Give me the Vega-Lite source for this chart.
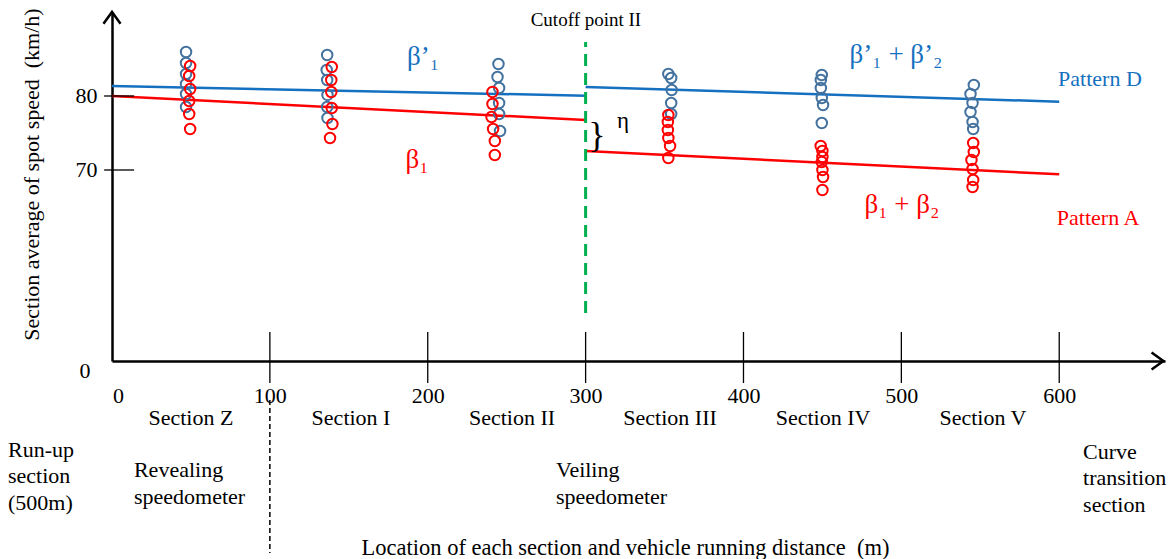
{
  "$schema": "https://vega.github.io/schema/vega-lite/v6.json",
  "width": 1053,
  "height": 349,
  "autosize": {"type": "none"},
  "padding": {"left": 112, "top": 12, "right": 8, "bottom": 198},
  "config": {"font": "Liberation Serif", "view": {"stroke": null}},
  "data": {"values": [{"k": 1}]},
  "layer": [
    {
      "data": {"values": [
        {"pattern": "Pattern D", "seg": "a", "x": 0, "y": 81.35},
        {"pattern": "Pattern D", "seg": "a", "x": 300, "y": 80.04},
        {"pattern": "Pattern D", "seg": "b", "x": 300, "y": 81.2},
        {"pattern": "Pattern D", "seg": "b", "x": 600, "y": 79.23},
        {"pattern": "Pattern A", "seg": "a", "x": 0, "y": 80},
        {"pattern": "Pattern A", "seg": "a", "x": 300, "y": 76.76},
        {"pattern": "Pattern A", "seg": "b", "x": 300, "y": 72.57},
        {"pattern": "Pattern A", "seg": "b", "x": 600, "y": 69.42}
      ]},
      "mark": {"type": "line", "strokeWidth": 2.5},
      "encoding": {
        "x": {"field": "x", "type": "quantitative",
          "scale": {"domain": [0, 667], "nice": false, "zero": false},
          "axis": {"values": [0, 100, 200, 300, 400, 500, 600], "grid": false, "ticks": false,
            "domainColor": "black", "domainWidth": 2.5, "labelColor": "black", "labelFontSize": 22,
            "labelPadding": 24, "labelFlush": false, "labelOverlap": false,
            "labelOffset": {"condition": {"test": "datum.value === 0", "value": 6}, "value": 0},
            "title": "Location of each section and vehicle running distance\u00a0 (m)",
            "titleFontSize": 22.5, "titleFontWeight": "normal", "titleColor": "black",
            "titleX": 513, "titleY": 186, "titleBaseline": "middle", "titleAlign": "center"}},
        "y": {"field": "y", "type": "quantitative",
          "scale": {"domain": [0, 60, 91.35], "range": [349, 232, 0], "nice": false, "zero": false},
          "axis": {"values": [0, 70, 80], "grid": false, "ticks": false,
            "domainColor": "black", "domainWidth": 2.5, "labelColor": "black", "labelFontSize": 22,
            "labelFlush": false, "labelOverlap": false,
            "labelPadding": {"condition": {"test": "datum.value === 0", "value": 22}, "value": 15},
            "labelOffset": {"condition": {"test": "datum.value === 0", "value": 9}, "value": 0},
            "title": "Section average of spot speed\u00a0 (km/h)",
            "titleFontSize": 22, "titleFontWeight": "normal", "titleColor": "black",
            "titleX": -81, "titleY": 162, "titleBaseline": "middle", "titleAlign": "center", "titleAngle": -90}},
        "color": {"field": "pattern", "type": "nominal",
          "scale": {"domain": ["Pattern D", "Pattern A"], "range": ["#1570C0", "#FF0000"]}, "legend": null},
        "detail": {"field": "seg"}
      }
    },
    {
      "data": {"values": [
        {"pattern": "Pattern D", "section": "Z", "x": 46.9, "y": 85.95},
        {"pattern": "Pattern D", "section": "Z", "x": 46.9, "y": 84.46},
        {"pattern": "Pattern D", "section": "Z", "x": 46.9, "y": 82.97},
        {"pattern": "Pattern D", "section": "Z", "x": 46.9, "y": 81.62},
        {"pattern": "Pattern D", "section": "Z", "x": 46.9, "y": 80.27},
        {"pattern": "Pattern D", "section": "Z", "x": 46.9, "y": 78.51},
        {"pattern": "Pattern D", "section": "I", "x": 136.3, "y": 85.54},
        {"pattern": "Pattern D", "section": "I", "x": 136.0, "y": 83.51},
        {"pattern": "Pattern D", "section": "I", "x": 136.3, "y": 82.16},
        {"pattern": "Pattern D", "section": "I", "x": 136.5, "y": 80.14},
        {"pattern": "Pattern D", "section": "I", "x": 136.3, "y": 78.51},
        {"pattern": "Pattern D", "section": "I", "x": 136.5, "y": 77.03},
        {"pattern": "Pattern D", "section": "II", "x": 244.8, "y": 84.32},
        {"pattern": "Pattern D", "section": "II", "x": 244.2, "y": 82.57},
        {"pattern": "Pattern D", "section": "II", "x": 245.2, "y": 81.08},
        {"pattern": "Pattern D", "section": "II", "x": 245.2, "y": 79.05},
        {"pattern": "Pattern D", "section": "II", "x": 245.2, "y": 77.57},
        {"pattern": "Pattern D", "section": "II", "x": 245.8, "y": 75.27},
        {"pattern": "Pattern D", "section": "III", "x": 352.4, "y": 82.97},
        {"pattern": "Pattern D", "section": "III", "x": 354.2, "y": 82.43},
        {"pattern": "Pattern D", "section": "III", "x": 354.5, "y": 80.81},
        {"pattern": "Pattern D", "section": "III", "x": 354.2, "y": 79.05},
        {"pattern": "Pattern D", "section": "III", "x": 354.2, "y": 77.57},
        {"pattern": "Pattern D", "section": "IV", "x": 449.6, "y": 82.84},
        {"pattern": "Pattern D", "section": "IV", "x": 449.0, "y": 82.16},
        {"pattern": "Pattern D", "section": "IV", "x": 449.0, "y": 81.08},
        {"pattern": "Pattern D", "section": "IV", "x": 449.6, "y": 79.73},
        {"pattern": "Pattern D", "section": "IV", "x": 450.4, "y": 78.78},
        {"pattern": "Pattern D", "section": "IV", "x": 449.6, "y": 76.35},
        {"pattern": "Pattern D", "section": "V", "x": 545.9, "y": 81.49},
        {"pattern": "Pattern D", "section": "V", "x": 543.8, "y": 80.27},
        {"pattern": "Pattern D", "section": "V", "x": 545.1, "y": 79.05},
        {"pattern": "Pattern D", "section": "V", "x": 543.8, "y": 77.84},
        {"pattern": "Pattern D", "section": "V", "x": 545.1, "y": 76.49},
        {"pattern": "Pattern D", "section": "V", "x": 545.5, "y": 75.54},
        {"pattern": "Pattern A", "section": "Z", "x": 49.5, "y": 84.05},
        {"pattern": "Pattern A", "section": "Z", "x": 48.9, "y": 82.7},
        {"pattern": "Pattern A", "section": "Z", "x": 49.5, "y": 80.95},
        {"pattern": "Pattern A", "section": "Z", "x": 48.9, "y": 79.32},
        {"pattern": "Pattern A", "section": "Z", "x": 48.9, "y": 77.57},
        {"pattern": "Pattern A", "section": "Z", "x": 49.5, "y": 75.54},
        {"pattern": "Pattern A", "section": "I", "x": 139.2, "y": 83.92},
        {"pattern": "Pattern A", "section": "I", "x": 138.9, "y": 82.16},
        {"pattern": "Pattern A", "section": "I", "x": 138.9, "y": 80.54},
        {"pattern": "Pattern A", "section": "I", "x": 139.2, "y": 78.38},
        {"pattern": "Pattern A", "section": "I", "x": 139.6, "y": 76.22},
        {"pattern": "Pattern A", "section": "I", "x": 138.1, "y": 74.32},
        {"pattern": "Pattern A", "section": "II", "x": 241.0, "y": 80.54},
        {"pattern": "Pattern A", "section": "II", "x": 241.0, "y": 78.92},
        {"pattern": "Pattern A", "section": "II", "x": 240.4, "y": 77.16},
        {"pattern": "Pattern A", "section": "II", "x": 241.4, "y": 75.54},
        {"pattern": "Pattern A", "section": "II", "x": 242.5, "y": 73.92},
        {"pattern": "Pattern A", "section": "II", "x": 242.5, "y": 72.03},
        {"pattern": "Pattern A", "section": "III", "x": 352.4, "y": 77.43},
        {"pattern": "Pattern A", "section": "III", "x": 352.1, "y": 76.49},
        {"pattern": "Pattern A", "section": "III", "x": 352.1, "y": 75.41},
        {"pattern": "Pattern A", "section": "III", "x": 352.4, "y": 74.32},
        {"pattern": "Pattern A", "section": "III", "x": 353.5, "y": 73.24},
        {"pattern": "Pattern A", "section": "III", "x": 352.4, "y": 71.62},
        {"pattern": "Pattern A", "section": "IV", "x": 448.9, "y": 73.24},
        {"pattern": "Pattern A", "section": "IV", "x": 450.0, "y": 72.57},
        {"pattern": "Pattern A", "section": "IV", "x": 450.0, "y": 71.76},
        {"pattern": "Pattern A", "section": "IV", "x": 449.6, "y": 71.08},
        {"pattern": "Pattern A", "section": "IV", "x": 450.0, "y": 70.0},
        {"pattern": "Pattern A", "section": "IV", "x": 450.4, "y": 69.05},
        {"pattern": "Pattern A", "section": "IV", "x": 450.0, "y": 67.3},
        {"pattern": "Pattern A", "section": "V", "x": 545.5, "y": 73.65},
        {"pattern": "Pattern A", "section": "V", "x": 545.9, "y": 72.43},
        {"pattern": "Pattern A", "section": "V", "x": 544.4, "y": 71.35},
        {"pattern": "Pattern A", "section": "V", "x": 545.1, "y": 70.14},
        {"pattern": "Pattern A", "section": "V", "x": 545.5, "y": 68.65},
        {"pattern": "Pattern A", "section": "V", "x": 545.1, "y": 67.7}
      ]},
      "mark": {"type": "point", "filled": false, "strokeWidth": 2, "size": 110, "opacity": 1},
      "encoding": {
        "x": {"field": "x", "type": "quantitative", "scale": {"domain": [0, 667], "nice": false, "zero": false}},
        "y": {"field": "y", "type": "quantitative", "scale": {"domain": [0, 60, 91.35], "range": [349, 232, 0], "nice": false, "zero": false}},
        "stroke": {"field": "pattern", "type": "nominal",
          "scale": {"domain": ["Pattern D", "Pattern A"], "range": ["#43729F", "#FF0000"]}, "legend": null}
      }
    },
    {
      "mark": {"type": "rule", "color": "#00B050", "strokeWidth": 3, "strokeDash": [12, 7]},
      "encoding": {
        "x": {"datum": 300, "type": "quantitative", "scale": {"domain": [0, 667], "nice": false, "zero": false}},
        "y": {"datum": 24.6, "type": "quantitative", "scale": {"domain": [0, 60, 91.35], "range": [349, 232, 0], "nice": false, "zero": false}},
        "y2": {"datum": 87.3}
      }
    },
    {
      "mark": {"type": "rule", "color": "black", "strokeWidth": 1.5, "strokeDash": [5, 3]},
      "encoding": {
        "x": {"datum": 100, "type": "quantitative", "scale": {"domain": [0, 667], "nice": false, "zero": false}},
        "y": {"datum": -20, "type": "quantitative", "scale": {"domain": [0, 60, 91.35], "range": [349, 232, 0], "nice": false, "zero": false}},
        "y2": {"datum": -98.5}
      }
    },
    {
      "data": {"values": [{"x": 100}, {"x": 200}, {"x": 300}, {"x": 400}, {"x": 500}, {"x": 600}]},
      "mark": {"type": "rule", "color": "black", "strokeWidth": 1.3},
      "encoding": {
        "x": {"field": "x", "type": "quantitative", "scale": {"domain": [0, 667], "nice": false, "zero": false}},
        "y": {"datum": -11.3, "type": "quantitative", "scale": {"domain": [0, 60, 91.35], "range": [349, 232, 0], "nice": false, "zero": false}},
        "y2": {"datum": 14.9}
      }
    },
    {
      "data": {"values": [{"y": 70}, {"y": 80}]},
      "mark": {"type": "rule", "color": "black", "strokeWidth": 1.3},
      "encoding": {
        "x": {"datum": -5, "type": "quantitative", "scale": {"domain": [0, 667], "nice": false, "zero": false}},
        "x2": {"datum": 14},
        "y": {"field": "y", "type": "quantitative", "scale": {"domain": [0, 60, 91.35], "range": [349, 232, 0], "nice": false, "zero": false}}
      }
    },
    {
      "mark": {"type": "point", "shape": "M-0.72,1L0,0L0.72,1", "size": 560, "filled": false, "stroke": "black", "strokeWidth": 2.5, "opacity": 1},
      "encoding": {
        "x": {"datum": 0, "type": "quantitative", "scale": {"domain": [0, 667], "nice": false, "zero": false}},
        "y": {"datum": 91.35, "type": "quantitative", "scale": {"domain": [0, 60, 91.35], "range": [349, 232, 0], "nice": false, "zero": false}}
      }
    },
    {
      "mark": {"type": "point", "shape": "M-1,-0.72L0,0L-1,0.72", "size": 560, "filled": false, "stroke": "black", "strokeWidth": 2.5, "opacity": 1},
      "encoding": {
        "x": {"datum": 666, "type": "quantitative", "scale": {"domain": [0, 667], "nice": false, "zero": false}},
        "y": {"datum": 0, "type": "quantitative", "scale": {"domain": [0, 60, 91.35], "range": [349, 232, 0], "nice": false, "zero": false}}
      }
    },
    {
      "data": {"values": [
        {"label": "Section Z", "x": 50, "y": -29.2},
        {"label": "Section I", "x": 151.4, "y": -29.2},
        {"label": "Section II", "x": 253.4, "y": -29.2},
        {"label": "Section III", "x": 353.5, "y": -29.2},
        {"label": "Section IV", "x": 450.4, "y": -29.2},
        {"label": "Section V", "x": 551.7, "y": -29.2}
      ]},
      "mark": {"type": "text", "fontSize": 22, "color": "black", "align": "center", "baseline": "middle"},
      "encoding": {
        "x": {"field": "x", "type": "quantitative", "scale": {"domain": [0, 667], "nice": false, "zero": false}},
        "y": {"field": "y", "type": "quantitative", "scale": {"domain": [0, 60, 91.35], "range": [349, 232, 0], "nice": false, "zero": false}},
        "text": {"field": "label"}
      }
    },
    {
      "data": {"values": [
        {"label": "Run-up\nsection\n(500m)", "x": -65.9, "y": -40.3},
        {"label": "Revealing\nspeedometer", "x": 13.9, "y": -51.0},
        {"label": "Veiling\nspeedometer", "x": 281.2, "y": -51.0},
        {"label": "Curve\ntransition\nsection", "x": 615.1, "y": -41.3}
      ]},
      "mark": {"type": "text", "fontSize": 22, "color": "black", "align": "left", "baseline": "top", "lineBreak": "\n", "lineHeight": 26.5},
      "encoding": {
        "x": {"field": "x", "type": "quantitative", "scale": {"domain": [0, 667], "nice": false, "zero": false}},
        "y": {"field": "y", "type": "quantitative", "scale": {"domain": [0, 60, 91.35], "range": [349, 232, 0], "nice": false, "zero": false}},
        "text": {"field": "label"}
      }
    },
    {
      "data": {"values": [{"label": "Cutoff point II", "x": 300.2, "y": 90.27}]},
      "mark": {"type": "text", "fontSize": 19, "color": "black", "align": "center", "baseline": "middle"},
      "encoding": {
        "x": {"field": "x", "type": "quantitative", "scale": {"domain": [0, 667], "nice": false, "zero": false}},
        "y": {"field": "y", "type": "quantitative", "scale": {"domain": [0, 60, 91.35], "range": [349, 232, 0], "nice": false, "zero": false}},
        "text": {"field": "label"}
      }
    },
    {
      "data": {"values": [{"label": "η", "x": 323.7, "y": 76.6}]},
      "mark": {"type": "text", "fontSize": 23, "color": "black", "align": "center", "baseline": "middle"},
      "encoding": {
        "x": {"field": "x", "type": "quantitative", "scale": {"domain": [0, 667], "nice": false, "zero": false}},
        "y": {"field": "y", "type": "quantitative", "scale": {"domain": [0, 60, 91.35], "range": [349, 232, 0], "nice": false, "zero": false}},
        "text": {"field": "label"}
      }
    },
    {
      "data": {"values": [{"label": "}", "x": 307.2, "y": 74.6}]},
      "mark": {"type": "text", "fontSize": 36, "color": "black", "align": "center", "baseline": "middle"},
      "encoding": {
        "x": {"field": "x", "type": "quantitative", "scale": {"domain": [0, 667], "nice": false, "zero": false}},
        "y": {"field": "y", "type": "quantitative", "scale": {"domain": [0, 60, 91.35], "range": [349, 232, 0], "nice": false, "zero": false}},
        "text": {"field": "label"}
      }
    },
    {
      "data": {"values": [
        {"label": "β’₁", "pattern": "Pattern D", "x": 197, "y": 85.27},
        {"label": "β’₁ + β’₂", "pattern": "Pattern D", "x": 496.6, "y": 85.54},
        {"label": "β₁", "pattern": "Pattern A", "x": 193.2, "y": 71.35},
        {"label": "β₁ + β₂", "pattern": "Pattern A", "x": 500.4, "y": 65.27}
      ]},
      "mark": {"type": "text", "fontSize": 27, "align": "center", "baseline": "middle"},
      "encoding": {
        "x": {"field": "x", "type": "quantitative", "scale": {"domain": [0, 667], "nice": false, "zero": false}},
        "y": {"field": "y", "type": "quantitative", "scale": {"domain": [0, 60, 91.35], "range": [349, 232, 0], "nice": false, "zero": false}},
        "text": {"field": "label"},
        "color": {"field": "pattern", "type": "nominal",
          "scale": {"domain": ["Pattern D", "Pattern A"], "range": ["#1570C0", "#FF0000"]}, "legend": null}
      }
    },
    {
      "data": {"values": [
        {"label": "Pattern D", "pattern": "Pattern D", "x": 625.8, "y": 82.3},
        {"label": "Pattern A", "pattern": "Pattern A", "x": 624.6, "y": 63.51}
      ]},
      "mark": {"type": "text", "fontSize": 22, "align": "center", "baseline": "middle"},
      "encoding": {
        "x": {"field": "x", "type": "quantitative", "scale": {"domain": [0, 667], "nice": false, "zero": false}},
        "y": {"field": "y", "type": "quantitative", "scale": {"domain": [0, 60, 91.35], "range": [349, 232, 0], "nice": false, "zero": false}},
        "text": {"field": "label"},
        "color": {"field": "pattern", "type": "nominal",
          "scale": {"domain": ["Pattern D", "Pattern A"], "range": ["#1570C0", "#FF0000"]}, "legend": null}
      }
    }
  ]
}
